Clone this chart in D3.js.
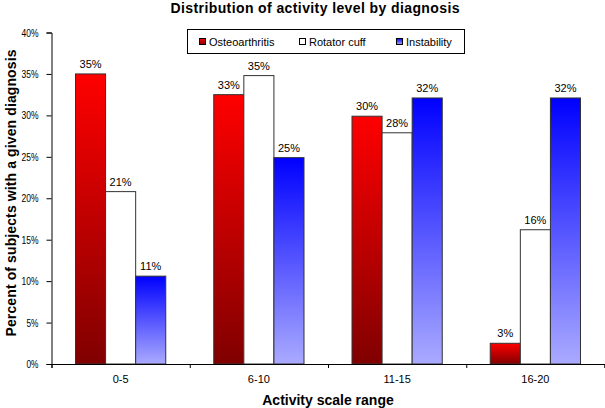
<!DOCTYPE html>
<html><head><meta charset="utf-8">
<script src="https://cdn.jsdelivr.net/npm/d3@7"></script>
<style>body{margin:0;background:#fff}svg{display:block;font-family:Arial,"Liberation Sans",sans-serif}</style>
</head><body><svg id="c" width="605" height="408"></svg>
<script>
const categories = ["0-5","6-10","11-15","16-20"];
const seriesNames = ["Osteoarthritis","Rotator cuff","Instability"];
const osteoarthritis = [35.0, 32.5, 29.9, 2.5];
const rotatorCuff = [20.8, 34.8, 27.9, 16.2];
const instability = [10.6, 24.9, 32.1, 32.1];
const yTicks = [0,5,10,15,20,25,30,35,40];

const series = [osteoarthritis, rotatorCuff, instability];
const svg = d3.select("#c");
const defs = svg.append("defs");
function grad(id, top, bottom){
  const g = defs.append("linearGradient").attr("id",id).attr("x1",0).attr("y1",0).attr("x2",0).attr("y2",1);
  g.append("stop").attr("offset","0%").attr("stop-color",top);
  g.append("stop").attr("offset","100%").attr("stop-color",bottom);
}
grad("gRed","#ff0000","#800000");
grad("gBlue","#0000ff","#aaaaff");
const fills = ["url(#gRed)","#ffffff","url(#gBlue)"];

const L=51.5, R=604.5, T=32.5, B=364;
const x0 = d3.scaleBand().domain(categories).range([L,R]).paddingInner(0.3472).paddingOuter(0.1736);
const x1 = d3.scaleBand().domain(d3.range(3)).range([0, x0.bandwidth()]);
const y = d3.scaleLinear().domain([0,40]).range([B,T]);
const xb = d3.scaleLinear().domain([0,categories.length]).range([L,R]);

// y axis
const ya = svg.append("g").attr("transform",`translate(${L},0)`)
  .call(d3.axisLeft(y).tickValues(yTicks).tickSize(5).tickPadding(8).tickFormat(d=>d+"%"));
ya.selectAll("text").attr("font-size",11).attr("font-family","Arial, Liberation Sans").attr("fill","#000")
  .attr("textLength",d=>d>=10?17:12).attr("lengthAdjust","spacingAndGlyphs");
ya.selectAll("line,path").attr("stroke","#000");

// bars
const groups = svg.append("g").selectAll("g").data(categories).join("g")
  .attr("transform",c=>`translate(${x0(c)},0)`);
groups.selectAll("rect").data((c,i)=>series.map((s,j)=>({j,v:s[i]}))).join("rect")
  .attr("x",d=>x1(d.j)).attr("width",x1.bandwidth())
  .attr("y",d=>y(d.v)).attr("height",d=>y(0)-y(d.v))
  .attr("fill",d=>fills[d.j]).attr("stroke","#333").attr("stroke-width",1);
groups.selectAll("text").data((c,i)=>series.map((s,j)=>({j,v:s[i]}))).join("text")
  .attr("x",d=>x1(d.j)+x1.bandwidth()/2).attr("y",d=>y(d.v)-6)
  .attr("text-anchor","middle").attr("font-size",11).text(d=>Math.round(d.v)+"%");

// x axis
const xa = svg.append("g").attr("transform",`translate(0,${B})`)
  .call(d3.axisBottom(xb).ticks(categories.length).tickSize(4).tickFormat(""));
xa.selectAll("line,path").attr("stroke","#000");
const xl = svg.append("g").attr("transform",`translate(0,${B})`)
  .call(d3.axisBottom(x0).tickSize(0).tickPadding(11));
xl.select("path").remove();
xl.selectAll("text").attr("font-size",11).attr("font-family","Arial, Liberation Sans").attr("fill","#000");

// titles
svg.append("text").attr("x",315).attr("y",13).attr("text-anchor","middle")
  .attr("font-size",14).attr("font-weight","bold").attr("textLength",289).attr("lengthAdjust","spacing")
  .text("Distribution of activity level by diagnosis");
svg.append("text").attr("x",(L+R)/2).attr("y",405).attr("text-anchor","middle")
  .attr("font-size",14).attr("font-weight","bold")
  .text("Activity scale range");
svg.append("text").attr("transform","translate(16,193) rotate(-90)").attr("text-anchor","middle")
  .attr("font-size",14).attr("font-weight","bold").attr("textLength",287).attr("lengthAdjust","spacing")
  .text("Percent of subjects with a given diagnosis");

// legend
const lg = svg.append("g");
lg.append("rect").attr("x",187.5).attr("y",29.5).attr("width",277).attr("height",24)
  .attr("fill","#fff").attr("stroke","#000");
const lx = [199, 299, 396];
seriesNames.forEach((n,j)=>{
  lg.append("rect").attr("x",lx[j]+0.5).attr("y",38.5).attr("width",6).attr("height",6)
    .attr("fill",fills[j]).attr("stroke","#000");
  lg.append("text").attr("x",lx[j]+10).attr("y",46).attr("font-size",11).text(n);
});
</script></body></html>
